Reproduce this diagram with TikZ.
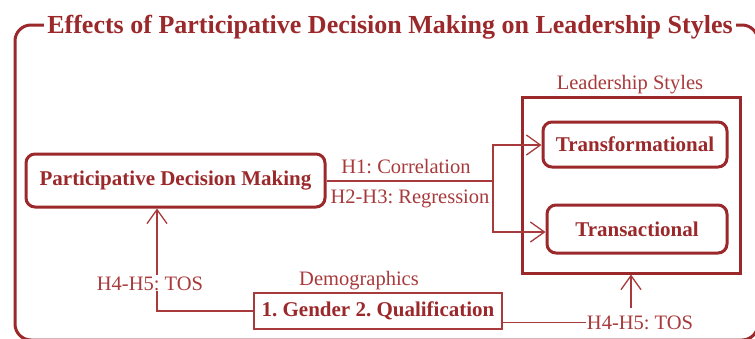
\documentclass[tikz,border=0pt]{standalone}
\usepackage{fontspec}
\setmainfont{Liberation Serif}
\usetikzlibrary{arrows.meta}
\definecolor{dred}{RGB}{155,40,42}
\definecolor{lred}{RGB}{168,58,60}
\frenchspacing
\begin{document}
\begin{tikzpicture}[x=1pt,y=-1pt,
  frame/.style={draw=dred,line width=3pt},
  ttl/.style={text=dred,font=\fontsize{26}{30}\selectfont\bfseries,fill=white,inner xsep=3pt,inner ysep=1pt},
  rbox/.style={draw=dred,line width=3pt,rounded corners=9pt,text=dred,font=\fontsize{21}{24}\selectfont\bfseries,inner sep=0pt},
  sbox/.style={draw=dred,line width=3pt,inner sep=0pt},
  dbox/.style={draw=lred,line width=1.3pt,text=dred,font=\fontsize{21}{24}\selectfont\bfseries,inner sep=0pt},
  lbl/.style={text=lred,font=\fontsize{20.5}{24}\selectfont,inner sep=1pt},
  conn/.style={draw=lred,line width=1.3pt},
  oarr/.style={conn,-{Straight Barb[length=14pt,width=20pt,line width=1.3pt]}}
]
\useasboundingbox (0,0) rectangle (755,338);
\clip (0,0) rectangle (755,338);
\fill[white] (0,0) rectangle (755,338);
% outer frame
\draw[frame,rounded corners=16pt] (15,25) rectangle (758,340);
\node[ttl,anchor=base] (title) at (390,33) {Effects of Participative Decision Making on Leadership Styles};
% nodes
\node[rbox,minimum width=299pt,minimum height=53pt] (pdm) at (175.5,180.5) {Participative Decision Making};
\node[sbox,minimum width=218pt,minimum height=176pt] (ls) at (631,185) {};
\node[lbl,anchor=base] (lstxt) at (630,89) {Leadership Styles};
\node[rbox,minimum width=184pt,minimum height=45pt] (trf) at (635,144.5) {Transformational};
\node[rbox,minimum width=180pt,minimum height=48pt] (trs) at (637,229) {Transactional};
\node[dbox,minimum width=248pt,minimum height=36pt] (demo) at (378,311) {1. Gender 2. Qualification};
\node[lbl,anchor=base] (demotxt) at (359,285) {Demographics};
% connectors PDM -> styles
\coordinate (j) at (493,181);
\draw[conn] (pdm.east |- j) -- (j);
\draw[oarr] (j) |- (trf.west |- 0,145);
\draw[oarr] (j) |- (trs.west |- 0,232);
\node[lbl,anchor=base] (h1) at (406,173) {H1: Correlation};
\node[lbl,anchor=base] (h2) at (410,203) {H2-H3: Regression};
% demographics -> PDM
\coordinate (lx) at (157,0);
\draw[oarr] (demo.west) -| (lx |- pdm.south);
\node[lbl,anchor=base,fill=white] (tosl) at (150,290) {H4-H5: TOS};
% demographics -> styles
\node[lbl,anchor=base] (tosr) at (640,329) {H4-H5: TOS};
\draw[conn] (demo.east |- tosr.west) -- (tosr.west);
\coordinate (rx) at (631,308);
\draw[oarr] (rx) -- (rx |- ls.south);
\end{tikzpicture}
\end{document}
